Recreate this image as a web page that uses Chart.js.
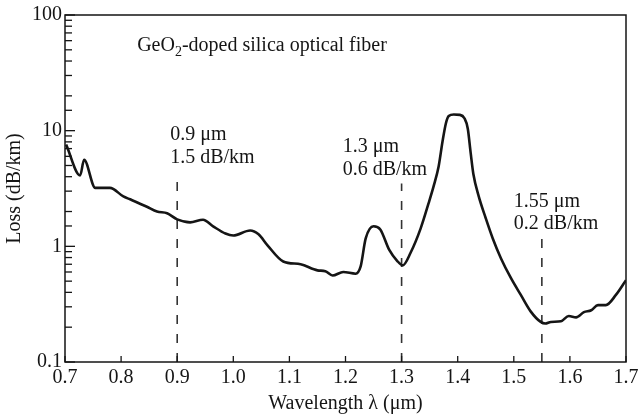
<!DOCTYPE html>
<html>
<head>
<meta charset="utf-8">
<script src="https://cdn.jsdelivr.net/npm/chart.js@4.4.0/dist/chart.umd.min.js"></script>
<style>
  html, body { margin: 0; padding: 0; background: #fff; }
  #wrap { width: 638px; height: 417px; position: relative; }
</style>
</head>
<body>
<div id="wrap"><canvas id="loss"></canvas></div>
<script>
// wavelength (um) and loss (dB/km)
var wavelength = [0.702, 0.727, 0.734, 0.754, 0.78, 0.804, 0.816, 0.846, 0.864, 0.882,
  0.900, 0.923, 0.946, 0.964, 0.986, 1.000, 1.030, 1.045, 1.061, 1.089,
  1.12, 1.15, 1.164, 1.177, 1.196, 1.218, 1.227, 1.236, 1.25, 1.262,
  1.278, 1.292, 1.302, 1.316, 1.334, 1.348, 1.357, 1.366, 1.373, 1.379,
  1.384, 1.393, 1.404, 1.412, 1.418, 1.423, 1.428, 1.4375, 1.45, 1.4625,
  1.477, 1.495, 1.5125, 1.53, 1.548, 1.556, 1.566, 1.584, 1.598, 1.611,
  1.625, 1.638, 1.65, 1.664, 1.682, 1.7];
var loss = [7.6, 4.1, 5.6, 3.2, 3.2, 2.7, 2.55, 2.2, 2.0, 1.93,
  1.71, 1.61, 1.70, 1.49, 1.29, 1.24, 1.37, 1.27, 1.02, 0.74,
  0.70, 0.62, 0.61, 0.56, 0.60, 0.58, 0.67, 1.17, 1.49, 1.40,
  0.93, 0.75, 0.685, 0.88, 1.43, 2.35, 3.3, 4.9, 8.1, 11.6,
  13.4, 13.8, 13.7, 12.8, 10.4, 6.5, 4.2, 2.7, 1.75, 1.17,
  0.79, 0.53, 0.38, 0.274, 0.222, 0.215, 0.222, 0.225, 0.25, 0.243,
  0.27, 0.28, 0.31, 0.31, 0.38, 0.51];

// the three marked windows
var windowX = [0.9, 1.3, 1.55];
var windowTop = [3.65, 3.5, 1.17];
var windowLine1 = ['0.9 μm', '1.3 μm', '1.55 μm'];
var windowLine2 = ['1.5 dB/km', '0.6 dB/km', '0.2 dB/km'];

var FONT = '"Liberation Serif", "Times New Roman", serif';
var INK = '#151515';

var curve = wavelength.map(function(w, i) { return {x: w, y: loss[i]}; });

var datasets = [{
  data: curve,
  borderColor: INK,
  borderWidth: 2.6,
  pointRadius: 0,
  cubicInterpolationMode: 'monotone',
  fill: false
}];
windowX.forEach(function(w, i) {
  datasets.push({
    data: [{x: w, y: 0.1}, {x: w, y: windowTop[i]}],
    borderColor: '#333',
    borderWidth: 1.6,
    borderDash: [9, 10],
    pointRadius: 0,
    fill: false
  });
});

function isDecade(v) {
  var l = Math.log10(v);
  return Math.abs(l - Math.round(l)) < 1e-6;
}

var framePlugin = {
  id: 'frame',
  afterDraw: function(chart) {
    var ctx = chart.ctx, a = chart.chartArea;
    var xs = chart.scales.x, ys = chart.scales.y;
    ctx.save();
    ctx.strokeStyle = INK;
    ctx.lineWidth = 1.5;
    ctx.strokeRect(a.left, a.top, a.right - a.left, a.bottom - a.top);

    // log ticks on the left, inside
    ctx.lineWidth = 1.3;
    ys.ticks.forEach(function(t) {
      var py = ys.getPixelForValue(t.value);
      var len = isDecade(t.value) ? 10 : 7;
      ctx.beginPath();
      ctx.moveTo(a.left, py);
      ctx.lineTo(a.left + len, py);
      ctx.stroke();
    });
    // x ticks, inside
    xs.ticks.forEach(function(t) {
      var px = xs.getPixelForValue(t.value);
      ctx.beginPath();
      ctx.moveTo(px, a.bottom);
      ctx.lineTo(px, a.bottom - 6);
      ctx.stroke();
    });

    // texts
    ctx.fillStyle = INK;
    ctx.textBaseline = 'alphabetic';
    ctx.textAlign = 'left';
    ctx.font = '20px ' + FONT;
    var tx = xs.getPixelForValue(0.8286), ty = ys.getPixelForValue(48.4);
    ctx.fillText('GeO', tx, ty);
    tx += ctx.measureText('GeO').width;
    ctx.font = '14px ' + FONT;
    ctx.fillText('2', tx, ty + 5);
    tx += ctx.measureText('2').width;
    ctx.font = '20px ' + FONT;
    ctx.fillText('-doped silica optical fiber', tx, ty);

    var labelX = [0.8875, 1.195, 1.5];
    var base1 = [8.24, 6.49, 2.17];
    var base2 = [5.22, 4.11, 1.40];
    windowX.forEach(function(w, i) {
      var lx = xs.getPixelForValue(labelX[i]);
      ctx.fillText(windowLine1[i], lx, ys.getPixelForValue(base1[i]));
      ctx.fillText(windowLine2[i], lx, ys.getPixelForValue(base2[i]));
    });
    ctx.restore();
  }
};

new Chart(document.getElementById('loss'), {
  type: 'line',
  data: {datasets: datasets},
  options: {
    responsive: true,
    maintainAspectRatio: false,
    animation: false,
    layout: {padding: {top: 15, right: 12, left: 0, bottom: 0}},
    plugins: {legend: {display: false}, tooltip: {enabled: false}},
    scales: {
      x: {
        type: 'linear',
        min: 0.7,
        max: 1.7,
        grid: {display: false, drawTicks: false},
        border: {display: false},
        afterFit: function(s) { s.height = 55; s.paddingRight = 0; s.paddingLeft = 0; },
        ticks: {
          stepSize: 0.1,
          padding: 4,
          color: INK,
          font: {family: FONT, size: 20},
          callback: function(v) { return v.toFixed(1); }
        },
        title: {
          display: true,
          text: 'Wavelength λ (μm)',
          color: INK,
          font: {family: FONT, size: 20},
          padding: {top: 0, bottom: 1}
        }
      },
      y: {
        type: 'logarithmic',
        min: 0.1,
        max: 100,
        grid: {display: false, drawTicks: false},
        border: {display: false},
        afterFit: function(s) { s.width = 65; s.paddingTop = 0; s.paddingBottom = 0; },
        ticks: {
          autoSkip: false,
          padding: 3,
          color: INK,
          font: {family: FONT, size: 20},
          callback: function(v) { return isDecade(v) ? String(v) : ''; }
        },
        title: {
          display: true,
          text: 'Loss (dB/km)',
          color: INK,
          font: {family: FONT, size: 20},
          padding: {top: 3, bottom: 0}
        }
      }
    }
  },
  plugins: [framePlugin]
});
</script>
</body>
</html>
